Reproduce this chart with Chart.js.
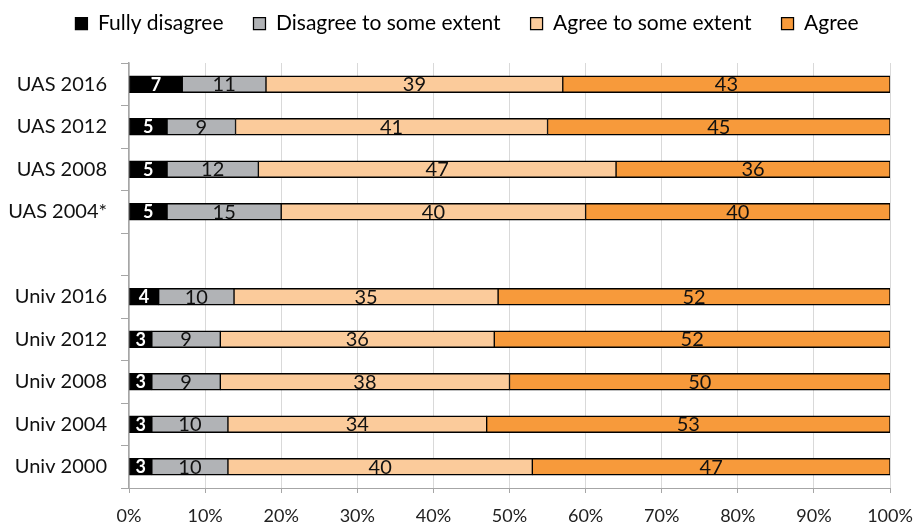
<!DOCTYPE html>
<html>
<head>
<meta charset="utf-8">
<script src="https://cdn.jsdelivr.net/npm/chart.js@4/dist/chart.umd.min.js"></script>
<style>
  html, body { margin: 0; padding: 0; background: #fff; }
  #wrap { width: 916px; height: 527px; position: relative; }
</style>
</head>
<body>
<div id="wrap"><canvas id="c" width="916" height="527"></canvas></div>
<script>
const categories = ['UAS 2016', 'UAS 2012', 'UAS 2008', 'UAS 2004*', '', 'Univ 2016', 'Univ 2012', 'Univ 2008', 'Univ 2004', 'Univ 2000'];
const seriesNames = ['Fully disagree', 'Disagree to some extent', 'Agree to some extent', 'Agree'];
const fullyDisagree = [7, 5, 5, 5, null, 3.9, 3, 3, 3, 3];
const disagreeSome = [11, 9, 12, 15, null, 9.9, 9, 9, 10, 10];
const agreeSome = [39, 41, 47, 40, null, 34.7, 36, 38, 34, 40];
const agree = [43, 45, 36, 40, null, 51.5, 52, 50, 53, 47];
const xTicks = [0, 10, 20, 30, 40, 50, 60, 70, 80, 90, 100];

const colors = ['#000000', '#B1B3B6', '#FBCB9B', '#F79A3B'];
const FONT = 'Lato, "Open Sans", sans-serif';

const barBorder = { top: 1.5, bottom: 1.5, left: 1, right: 1 };
function ds(label, data, color) {
  return {
    label, data,
    backgroundColor: color,
    borderColor: '#000000',
    borderWidth: barBorder,
    borderSkipped: false,
    barThickness: 17,
  };
}

const labelPlugin = {
  id: 'segLabels',
  afterDatasetsDraw(chart) {
    const ctx = chart.ctx;
    ctx.save();
    ctx.textAlign = 'center';
    ctx.textBaseline = 'middle';
    chart.data.datasets.forEach((d, di) => {
      const meta = chart.getDatasetMeta(di);
      meta.data.forEach((el, i) => {
        const v = d.data[i];
        if (v == null) return;
        const cx = (el.x + el.base) / 2;
        if (di === 0) {
          ctx.font = 'bold 18px ' + FONT;
          ctx.fillStyle = '#ffffff';
        } else {
          ctx.font = '20px ' + FONT;
          ctx.fillStyle = '#111111';
        }
        ctx.fillText(String(Math.round(v)), cx, el.y + 0.5);
      });
    });
    ctx.restore();
  }
};

const legendSpacer = {
  id: 'legendSpacer',
  beforeInit(chart) {
    const orig = chart.legend.fit;
    chart.legend.fit = function () {
      orig.call(this);
      this.height += 19;
    };
  },
  afterLayout(chart) {
    chart.legend.left += 22;
    chart.legend.right += 22;
  }
};

new Chart(document.getElementById('c'), {
  type: 'bar',
  data: {
    labels: categories,
    datasets: [
      ds(seriesNames[0], fullyDisagree, colors[0]),
      ds(seriesNames[1], disagreeSome, colors[1]),
      ds(seriesNames[2], agreeSome, colors[2]),
      ds(seriesNames[3], agree, colors[3]),
    ]
  },
  options: {
    indexAxis: 'y',
    responsive: false,
    animation: false,
    layout: { padding: { left: 0, right: 26, top: -17, bottom: 0 } },
    plugins: {
      legend: {
        position: 'top',
        labels: {
          font: { family: FONT, size: 21 },
          color: '#000',
          boxWidth: 12,
          boxHeight: 12,
          padding: 30,
        }
      },
      tooltip: { enabled: false },
    },
    scales: {
      x: {
        stacked: true,
        min: 0, max: 100,
        afterBuildTicks(scale) { scale.ticks = xTicks.map(v => ({ value: v })); },
        afterFit(scale) { scale.height = 39; scale.paddingLeft = 0; scale.paddingRight = 0; },
        ticks: {
          callback: v => v + '%',
          font: { family: FONT, size: 18 },
          color: '#222',
          padding: 12,
          maxRotation: 0,
        },
        grid: {
          color: '#D9D9D9',
          tickColor: '#A6A6A6',
          tickLength: 5,
          lineWidth: 1,
        },
        border: { color: '#A6A6A6', width: 1 },
      },
      y: {
        stacked: true,
        afterFit(scale) { scale.width = 129; },
        ticks: {
          font: { family: FONT, size: 20 },
          color: '#111',
          padding: 14,
        },
        grid: {
          offset: true,
          drawOnChartArea: false,
          tickColor: '#A6A6A6',
          tickLength: 8,
        },
        border: { color: '#A6A6A6', width: 1.5 },
      }
    }
  },
  plugins: [labelPlugin, legendSpacer]
});
</script>
</body>
</html>
